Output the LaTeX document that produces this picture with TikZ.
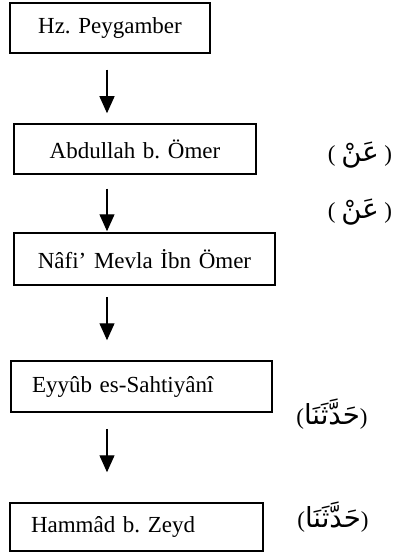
\documentclass[tikz,border=0pt]{standalone}
\usepackage{fontspec}
\setmainfont{Liberation Serif}
\newfontfamily\arabicfont[Script=Arabic,Scale=1.2]{DejaVu Sans}
\TeXXeTstate=1
\frenchspacing
\usetikzlibrary{arrows.meta}

\tikzset{
    kutu/.style={draw, line width=1.5pt, minimum height=50pt, inner xsep=21pt, inner ysep=0pt, text width=#1},
    ok/.style={line width=1.2pt, -{Triangle[length=17pt,width=15pt]}},
    rivayet/.style={inner sep=0pt}
}
\newcommand{\arapca}[1]{{\arabicfont\beginR #1\endR}}

\begin{document}
\begin{tikzpicture}[x=1pt, y=-1pt, font=\fontsize{23}{27}\selectfont]
    \useasboundingbox (0,0) rectangle (396,553);
    \coordinate (eksen) at (107,0);

    % Kutular
    \node[kutu=158pt, align=center] (hz) at (110,28) {Hz. Peygamber};
    \node[kutu=200pt, align=center] (ab) at (135,149) {Abdullah b. Ömer};
    \node[kutu=219pt, align=center, minimum height=52pt] (na) at (144.5,259) {Nâfi’ Mevla İbn Ömer};
    \node[kutu=219pt, align=left, minimum height=51pt] (ey) at (141.5,386.5) {Eyyûb es-Sahtiyânî};
    \node[kutu=211pt, align=left, minimum height=48pt] (ha) at (136.5,527) {Hammâd b. Zeyd};

    % Oklar
    \foreach \a/\b/\s/\e in {hz/ab/16/10, ab/na/14/1, na/ey/11/20, ey/ha/16/30}
    {
        \draw[ok, shorten <=\s pt, shorten >=\e pt] (\a.south -| eksen) -- (\b.north -| eksen);
    }

    % Rivayet lafizlari
    \node[rivayet] (an1) at (360,155) {( \arapca{عَنْ} )};
    \node[rivayet] (an2) at (360,212) {( \arapca{عَنْ} )};
    \node[rivayet] (hd1) at (332,414) {(\arapca{حَدَّثَنَا})};
    \node[rivayet] (hd2) at (333,517) {(\arapca{حَدَّثَنَا})};
\end{tikzpicture}
\end{document}
